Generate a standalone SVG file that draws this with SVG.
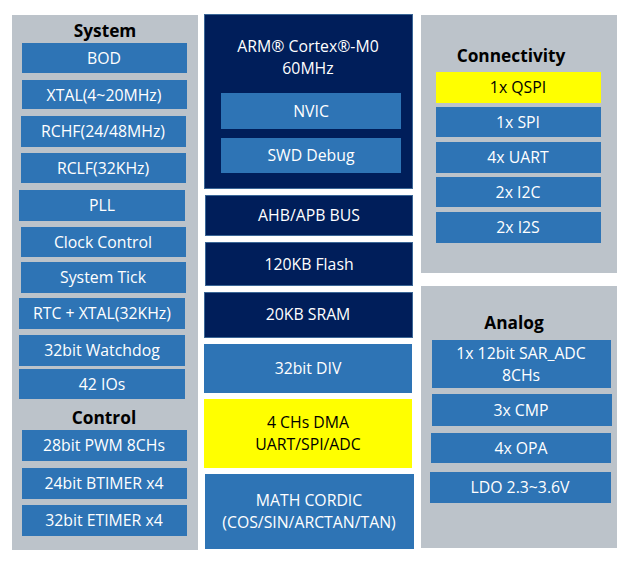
<svg xmlns="http://www.w3.org/2000/svg" width="632" height="565" viewBox="0 0 632 565">
<style>
text{font-family:"Open Sans","Noto Sans","Liberation Sans",sans-serif;font-size:15.8px;text-anchor:middle;dominant-baseline:central}
.panel{fill:#BCC3CA}
.blue{fill:#2E74B5}
.navy{fill:#001E5A;stroke:#3B6797;stroke-width:1}
.yellow{fill:#FFFF00}
.w{fill:#FFFFFF}
.k{fill:#000000}
.title{font-weight:bold;font-size:17.3px;fill:#000}
</style>
<rect width="632" height="565" fill="#FFFFFF"/>
<g id="panels">
<rect class="panel" x="12" y="15" width="186" height="535"/>
<rect class="panel" x="421" y="15" width="196" height="258"/>
<rect class="panel" x="421" y="286" width="196" height="262"/>
</g>
<g id="system-title"><text class="title" x="105" y="30">System</text></g>
<g id="bod"><rect class="blue" x="22" y="43" width="165" height="30"/><text class="w" x="104" y="58">BOD</text></g>
<g id="xtal"><rect class="blue" x="22" y="80" width="165" height="29"/><text class="w" x="104" y="95">XTAL(4~20MHz)</text></g>
<g id="rchf"><rect class="blue" x="21" y="116" width="165" height="31"/><text class="w" x="103" y="131">RCHF(24/48MHz)</text></g>
<g id="rclf"><rect class="blue" x="21" y="153" width="165" height="30"/><text class="w" x="103" y="168">RCLF(32KHz)</text></g>
<g id="pll"><rect class="blue" x="19" y="190" width="166" height="31"/><text class="w" x="102" y="205">PLL</text></g>
<g id="clock-control"><rect class="blue" x="21" y="227" width="165" height="30"/><text class="w" x="103" y="242">Clock Control</text></g>
<g id="system-tick"><rect class="blue" x="21" y="262" width="165" height="31"/><text class="w" x="103" y="277">System Tick</text></g>
<g id="rtc"><rect class="blue" x="19" y="298" width="166" height="31"/><text class="w" x="102" y="313">RTC + XTAL(32KHz)</text></g>
<g id="watchdog"><rect class="blue" x="19" y="335" width="166" height="31"/><text class="w" x="102" y="350">32bit Watchdog</text></g>
<g id="ios"><rect class="blue" x="19" y="369" width="166" height="30"/><text class="w" x="102" y="384">42 IOs</text></g>
<g id="control-title"><text class="title" x="104" y="417">Control</text></g>
<g id="pwm"><rect class="blue" x="22" y="430" width="165" height="31"/><text class="w" x="104" y="445">28bit PWM 8CHs</text></g>
<g id="btimer"><rect class="blue" x="22" y="468" width="165" height="31"/><text class="w" x="104" y="483">24bit BTIMER x4</text></g>
<g id="etimer"><rect class="blue" x="22" y="505" width="165" height="31"/><text class="w" x="104" y="520">32bit ETIMER x4</text></g>

<g id="cpu"><rect class="navy" x="204.5" y="14.5" width="208" height="174"/>
<text class="w" x="308" y="46">ARM® Cortex®-M0</text><text class="w" x="308" y="68">60MHz</text></g>
<g id="nvic"><rect class="blue" x="221" y="93" width="180" height="36"/><text class="w" x="311" y="111">NVIC</text></g>
<g id="swd"><rect class="blue" x="221" y="138" width="180" height="35"/><text class="w" x="311" y="155">SWD Debug</text></g>
<g id="bus"><rect class="navy" x="205.5" y="195.5" width="207" height="40"/><text class="w" x="309" y="215">AHB/APB BUS</text></g>
<g id="flash"><rect class="navy" x="205.5" y="242.5" width="207" height="43"/><text class="w" x="309" y="264">120KB Flash</text></g>
<g id="sram"><rect class="navy" x="204.5" y="292.5" width="208" height="45"/><text class="w" x="308" y="314">20KB SRAM</text></g>
<g id="div"><rect class="blue" x="204" y="344" width="208" height="49"/><text class="w" x="308" y="368">32bit DIV</text></g>
<g id="dma"><rect class="yellow" x="204" y="399" width="208" height="69"/><text class="k" x="308" y="422">4 CHs DMA</text><text class="k" x="308" y="444">UART/SPI/ADC</text></g>
<g id="cordic"><rect class="blue" x="205" y="474" width="209" height="75"/><text class="w" x="309" y="500">MATH CORDIC</text><text class="w" x="309" y="522">(COS/SIN/ARCTAN/TAN)</text></g>

<g id="connectivity-title"><text class="title" x="511" y="55">Connectivity</text></g>
<g id="qspi"><rect class="yellow" x="436" y="72" width="165" height="31"/><text class="k" x="518" y="87">1x QSPI</text></g>
<g id="spi"><rect class="blue" x="436" y="107" width="165" height="30"/><text class="w" x="518" y="122">1x SPI</text></g>
<g id="uart"><rect class="blue" x="436" y="142" width="165" height="31"/><text class="w" x="518" y="157">4x UART</text></g>
<g id="i2c"><rect class="blue" x="436" y="177" width="165" height="30"/><text class="w" x="518" y="192">2x I2C</text></g>
<g id="i2s"><rect class="blue" x="436" y="212" width="165" height="31"/><text class="w" x="518" y="227">2x I2S</text></g>

<g id="analog-title"><text class="title" x="514" y="322">Analog</text></g>
<g id="adc"><rect class="blue" x="432" y="340" width="179" height="48"/><text class="w" x="521" y="353">1x 12bit SAR_ADC</text><text class="w" x="521" y="375">8CHs</text></g>
<g id="cmp"><rect class="blue" x="432" y="394" width="180" height="32"/><text class="w" x="521" y="410">3x CMP</text></g>
<g id="opa"><rect class="blue" x="431" y="433" width="180" height="30"/><text class="w" x="521" y="448">4x OPA</text></g>
<g id="ldo"><rect class="blue" x="430" y="472" width="181" height="31"/><text class="w" x="520" y="487">LDO 2.3~3.6V</text></g>
<g id="connectors"></g>
</svg>
